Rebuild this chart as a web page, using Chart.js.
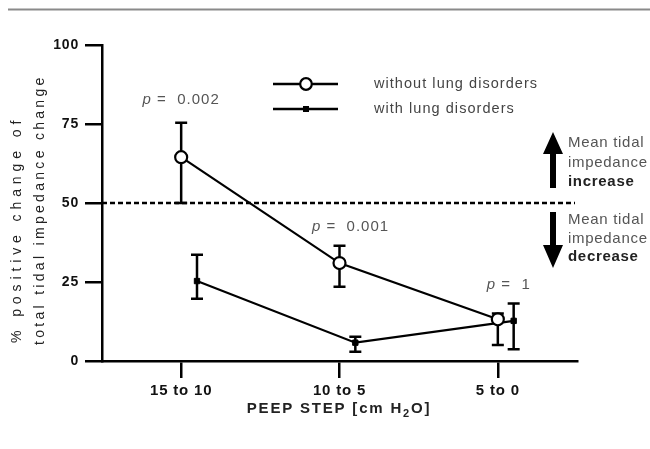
<!DOCTYPE html>
<html>
<head>
<meta charset="utf-8">
<script src="https://cdn.jsdelivr.net/npm/chart.js@4/dist/chart.umd.min.js"></script>
<style>
  html, body { margin: 0; padding: 0; background: #fff; }
  #wrap { width: 650px; height: 449px; position: relative; }
</style>
</head>
<body>
<div id="wrap"><canvas id="c" width="650" height="449"></canvas></div>
<script>
// ---- data ----
const categories = ['15 to 10', '10 to 5', '5 to 0'];
const withoutMean = [64.5, 31.0, 13.2];
const withoutHigh = [75.4, 36.5, 15.0];
const withoutLow  = [50.0, 23.5, 5.1];
const withMean = [25.3, 5.8, 12.7];
const withHigh = [33.6, 7.7, 18.2];
const withLow  = [19.7, 2.9, 3.7];
const pValues = ['0.002', '0.001', '1'];
const pLevels = [82.6, 42.4, 24];          // y value where the p label sits
const yTicks = [0, 25, 50, 75, 100];
const seriesNames = ['without lung disorders', 'with lung disorders'];
const refLine = 50;

const OFFSET = 0.1; // horizontal dodge of the second series (category units)

const ds1 = categories.map((c, i) => ({ x: i, y: withoutMean[i], hi: withoutHigh[i], lo: withoutLow[i] }));
const ds2 = categories.map((c, i) => ({ x: i + OFFSET, y: withMean[i], hi: withHigh[i], lo: withLow[i] }));

function spacedText(ctx, txt, x, y, spacing) {
  ctx.letterSpacing = spacing + 'px';
  ctx.fillText(txt, x, y);
  ctx.letterSpacing = '0px';
}

const errorBars = {
  id: 'errorBars',
  beforeDatasetsDraw(chart) {
    const ctx = chart.ctx, xs = chart.scales.x, ys = chart.scales.y;
    ctx.save();
    // reference dashed line at 50
    const yr = ys.getPixelForValue(refLine);
    ctx.strokeStyle = '#000';
    ctx.lineWidth = 2.5;
    ctx.setLineDash([5, 3]);
    ctx.beginPath();
    ctx.moveTo(chart.chartArea.left, yr);
    ctx.lineTo(chart.chartArea.right - 2, yr);
    ctx.stroke();
    ctx.setLineDash([]);
    // error bars
    chart.data.datasets.forEach(ds => {
      ds.data.forEach(p => {
        const x = xs.getPixelForValue(p.x);
        const yh = ys.getPixelForValue(p.hi), yl = ys.getPixelForValue(p.lo);
        ctx.lineWidth = 2.5;
        ctx.beginPath();
        ctx.moveTo(x, yh); ctx.lineTo(x, yl);
        ctx.moveTo(x - 6, yh); ctx.lineTo(x + 6, yh);
        ctx.moveTo(x - 6, yl); ctx.lineTo(x + 6, yl);
        ctx.stroke();
      });
    });
    ctx.restore();
  },
  afterDraw(chart) {
    const ctx = chart.ctx, xs = chart.scales.x, ys = chart.scales.y, ca = chart.chartArea;
    ctx.save();
    // top rule
    ctx.strokeStyle = '#8a8a8a';
    ctx.lineWidth = 2;
    ctx.beginPath(); ctx.moveTo(8, 9.5); ctx.lineTo(650, 9.5); ctx.stroke();

    // p-value labels
    ctx.fillStyle = '#555';
    ctx.textBaseline = 'middle';
    pValues.forEach((pv, i) => {
      const cx = xs.getPixelForValue(i) + (i === 0 ? 0 : 11);
      const cy = ys.getPixelForValue(pLevels[i]);
      ctx.font = 'italic 15px "Liberation Sans", Arial, sans-serif';
      ctx.letterSpacing = '1px';
      const w1 = ctx.measureText('p').width;
      ctx.font = '15px "Liberation Sans", Arial, sans-serif';
      const rest = ' =  ' + pv;
      const w2 = ctx.measureText(rest).width;
      const x0 = cx - (w1 + w2) / 2;
      ctx.textAlign = 'left';
      ctx.font = 'italic 15px "Liberation Sans", Arial, sans-serif';
      ctx.fillText('p', x0, cy);
      ctx.font = '15px "Liberation Sans", Arial, sans-serif';
      ctx.fillText(rest, x0 + w1, cy);
      ctx.letterSpacing = '0px';
    });

    // legend
    const lx0 = 273, lx1 = 338, lmx = 306;
    const ly = [84, 109];
    ctx.strokeStyle = '#000';
    ctx.lineWidth = 2.5;
    ly.forEach((y, k) => {
      ctx.beginPath(); ctx.moveTo(lx0, y); ctx.lineTo(lx1, y); ctx.stroke();
      if (k === 0) {
        ctx.fillStyle = '#fff';
        ctx.beginPath(); ctx.arc(lmx, y, 5.8, 0, Math.PI * 2); ctx.fill();
        ctx.lineWidth = 2.2; ctx.stroke(); ctx.lineWidth = 2.5;
      } else {
        ctx.fillStyle = '#000';
        ctx.fillRect(lmx - 3, y - 3, 6, 6);
      }
      ctx.fillStyle = '#444';
      ctx.font = '14.5px "Liberation Sans", Arial, sans-serif';
      ctx.textAlign = 'left'; ctx.textBaseline = 'middle';
      spacedText(ctx, seriesNames[k], 374, y, 1.05);
    });

    // arrows
    const yr = ys.getPixelForValue(refLine);
    const ax = 553;
    ctx.fillStyle = '#000';
    ctx.beginPath();
    ctx.moveTo(ax, yr - 71);
    ctx.lineTo(ax + 10, yr - 49);
    ctx.lineTo(ax + 3, yr - 49);
    ctx.lineTo(ax + 3, yr - 15);
    ctx.lineTo(ax - 3, yr - 15);
    ctx.lineTo(ax - 3, yr - 49);
    ctx.lineTo(ax - 10, yr - 49);
    ctx.closePath(); ctx.fill();
    ctx.beginPath();
    ctx.moveTo(ax, yr + 65);
    ctx.lineTo(ax + 10, yr + 42);
    ctx.lineTo(ax + 3, yr + 42);
    ctx.lineTo(ax + 3, yr + 9);
    ctx.lineTo(ax - 3, yr + 9);
    ctx.lineTo(ax - 3, yr + 42);
    ctx.lineTo(ax - 10, yr + 42);
    ctx.closePath(); ctx.fill();

    // arrow texts
    ctx.textAlign = 'left'; ctx.textBaseline = 'middle';
    const tx = 568;
    const up = [['Mean tidal', false], ['impedance', false], ['increase', true]];
    const dn = [['Mean tidal', false], ['impedance', false], ['decrease', true]];
    up.forEach((t, i) => {
      ctx.font = (t[1] ? 'bold ' : '') + '15px "Liberation Sans", Arial, sans-serif';
      ctx.fillStyle = t[1] ? '#222' : '#555';
      spacedText(ctx, t[0], tx, yr - 60 + i * 19.5, 0.7);
    });
    dn.forEach((t, i) => {
      ctx.font = (t[1] ? 'bold ' : '') + '15px "Liberation Sans", Arial, sans-serif';
      ctx.fillStyle = t[1] ? '#222' : '#555';
      spacedText(ctx, t[0], tx, yr + 17 + i * 18.5, 0.7);
    });

    // y axis title (two lines, rotated)
    ctx.save();
    ctx.fillStyle = '#222';
    ctx.font = '14px "Liberation Sans", Arial, sans-serif';
    ctx.textAlign = 'left'; ctx.textBaseline = 'middle';
    ctx.translate(17, 343);
    ctx.rotate(-Math.PI / 2);
    spacedText(ctx, '% positive change of', 0, 0, 4.9);
    ctx.restore();
    ctx.save();
    ctx.fillStyle = '#222';
    ctx.font = '14px "Liberation Sans", Arial, sans-serif';
    ctx.textAlign = 'left'; ctx.textBaseline = 'middle';
    ctx.translate(40, 345);
    ctx.rotate(-Math.PI / 2);
    spacedText(ctx, 'total tidal impedance change', 0, 0, 3.3);
    ctx.restore();

    // x axis title with subscript
    ctx.fillStyle = '#222';
    ctx.textBaseline = 'alphabetic';
    ctx.textAlign = 'left';
    const f = 'bold 15px "Liberation Sans", Arial, sans-serif';
    const fs = 'bold 11px "Liberation Sans", Arial, sans-serif';
    const parts = [['PEEP STEP [cm H', f, 0], ['2', fs, 4], ['O]', f, 0]];
    ctx.letterSpacing = '1.8px';
    let tw = 0;
    parts.forEach(p => { ctx.font = p[1]; tw += ctx.measureText(p[0]).width; });
    let x = 339 - tw / 2;
    const by = 413;
    parts.forEach(p => { ctx.font = p[1]; ctx.fillText(p[0], x, by + p[2]); x += ctx.measureText(p[0]).width; });
    ctx.letterSpacing = '0px';
    ctx.restore();
  }
};

const spacing = {
  id: 'spacing',
  beforeUpdate(chart) { chart.ctx.letterSpacing = '0.8px'; },
  beforeDraw(chart) { chart.ctx.letterSpacing = '0.8px'; }
};

new Chart(document.getElementById('c'), {
  type: 'line',
  data: {
    datasets: [
      {
        label: seriesNames[0], data: ds1,
        borderColor: '#000', borderWidth: 2.2,
        pointStyle: 'circle', pointRadius: 6, pointBorderWidth: 2.2,
        pointBackgroundColor: '#fff', pointBorderColor: '#000',
        tension: 0
      },
      {
        label: seriesNames[1], data: ds2,
        borderColor: '#000', borderWidth: 2.2,
        pointStyle: 'rect', pointRadius: 3.8, pointBorderWidth: 1,
        pointBackgroundColor: '#000', pointBorderColor: '#000',
        tension: 0
      }
    ]
  },
  options: {
    responsive: false,
    animation: false,
    events: [],
    layout: { padding: { left: 0, right: 73, top: 45, bottom: 0 } },
    plugins: { legend: { display: false }, tooltip: { enabled: false } },
    scales: {
      x: {
        type: 'linear', min: -0.5, max: 2.5,
        afterBuildTicks(scale) { scale.ticks = categories.map((c, i) => ({ value: i })); },
        afterFit(scale) { scale.height = 88; },
        ticks: {
          callback: (v) => categories[v] !== undefined ? categories[v] : '',
          color: '#111', padding: 4,
          font: { family: '"Liberation Sans", Arial, sans-serif', size: 15, weight: 'bold' },
          maxRotation: 0, autoSkip: false
        },
        grid: { display: true, drawOnChartArea: false, drawTicks: true, tickLength: 17, color: '#000', lineWidth: 2.5 },
        border: { display: true, color: '#000', width: 2.5 }
      },
      y: {
        min: 0, max: 100,
        afterBuildTicks(scale) { scale.ticks = yTicks.map(v => ({ value: v })); },
        afterFit(scale) { scale.width = 102; },
        ticks: {
          color: '#111', padding: 6,
          font: { family: '"Liberation Sans", Arial, sans-serif', size: 14, weight: 'bold' }
        },
        grid: { display: true, drawOnChartArea: false, drawTicks: true, tickLength: 17, color: '#000', lineWidth: 2.5 },
        border: { display: true, color: '#000', width: 2.5 }
      }
    }
  },
  plugins: [spacing, errorBars]
});
</script>
</body>
</html>
